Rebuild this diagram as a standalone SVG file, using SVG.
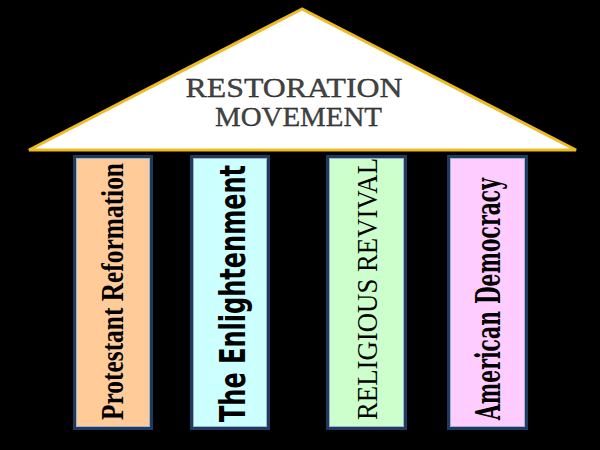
<svg xmlns="http://www.w3.org/2000/svg" width="600" height="450" viewBox="0 0 600 450">
<defs>
<style>
.pillar{stroke:#1F3A5F;stroke-width:3}
.inner{fill:none;stroke:#9DB4CC;stroke-width:1}
.lbl{fill:#000;text-anchor:middle}
.title{font-family:"Liberation Serif",serif;font-size:28px;fill:#444;stroke:#111;stroke-width:0.3;text-anchor:middle}
</style>
</defs>
<rect x="0" y="0" width="600" height="450" fill="#000"/>
<g id="roof">
<polygon points="302,9 29,150 576,150" fill="#fff" stroke="#EDBB22" stroke-width="3" stroke-linejoin="miter"/>
<text class="title" x="294" y="97" textLength="217" lengthAdjust="spacingAndGlyphs">RESTORATION</text>
<text class="title" x="298.5" y="126" textLength="167" lengthAdjust="spacingAndGlyphs">MOVEMENT</text>
</g>
<g id="pillar-protestant">
<rect class="pillar" x="74.5" y="156.5" width="77" height="272" fill="#FFCC99"/>
<rect class="inner" x="76.5" y="158.5" width="73" height="268"/>
<text class="lbl" transform="translate(123,291.5) rotate(-90)" x="0" y="0" font-family="'Liberation Serif',serif" font-weight="bold" font-size="31" textLength="257" lengthAdjust="spacingAndGlyphs">Protestant Reformation</text>
</g>
<g id="pillar-enlightenment">
<rect class="pillar" x="191.5" y="156.5" width="77" height="272" fill="#CCFFFF"/>
<rect class="inner" x="193.5" y="158.5" width="73" height="268"/>
<text class="lbl" transform="translate(245,293.5) rotate(-90)" x="0" y="0" font-family="'DejaVu Sans',sans-serif" font-weight="bold" font-size="36" textLength="257" lengthAdjust="spacingAndGlyphs">The Enlightenment</text>
</g>
<g id="pillar-revival">
<rect class="pillar" x="327.5" y="156.5" width="78" height="272" fill="#CCFFCC"/>
<rect class="inner" x="329.5" y="158.5" width="74" height="268"/>
<text class="lbl" transform="translate(377,289) rotate(-90)" x="0" y="0" font-family="'Liberation Serif',serif" font-size="30" textLength="262" lengthAdjust="spacingAndGlyphs">RELIGIOUS REVIVAL</text>
</g>
<g id="pillar-democracy">
<rect class="pillar" x="448.5" y="156.5" width="78" height="272" fill="#FFCCFF"/>
<rect class="inner" x="450.5" y="158.5" width="74" height="268"/>
<text class="lbl" transform="translate(500,299) rotate(-90)" x="0" y="0" font-family="'DejaVu Serif',serif" font-weight="bold" font-size="33" textLength="242" lengthAdjust="spacingAndGlyphs">American Democracy</text>
</g>
<g id="connectors"></g>
</svg>
